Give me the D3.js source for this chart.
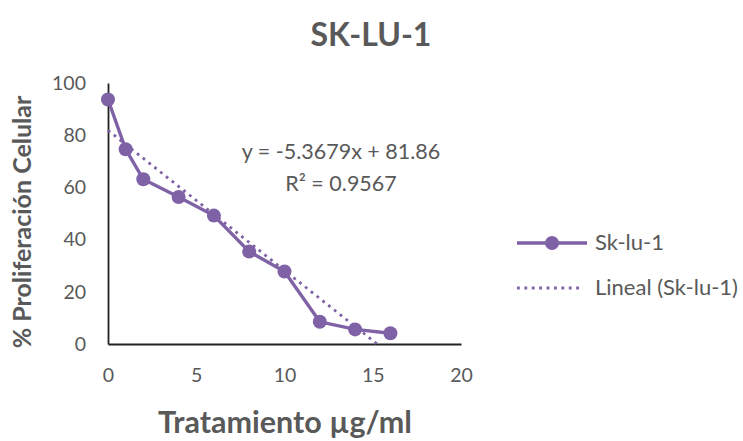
<!DOCTYPE html>
<meta charset="utf-8">
<style>
    body { margin: 0; background: #fff; }
    text { font-family: Lato, "Open Sans", sans-serif; fill: #595959; }
    .title { font-size: 32px; font-weight: bold; }
    .axis-title { font-size: 30.5px; font-weight: bold; }
    .ytitle { font-size: 25px; font-weight: bold; }
    .tick text { font-size: 19.5px; }
    .eq { font-size: 21.5px; }
    .legend text { font-size: 22px; }
</style>
<script src="https://d3js.org/d3.v7.min.js"></script>
<svg width="743" height="441"></svg>
<script>
    // data
    let dose = [0, 1, 2, 4, 6, 8, 10, 12, 14, 16];
    let prolif = [93.7, 74.6, 63.1, 56.3, 49.2, 35.4, 27.8, 8.5, 5.6, 4.1];
    let xTicks = [0, 5, 10, 15, 20];
    let yTicks = [0, 20, 40, 60, 80, 100];
    let slope = -5.3679, intercept = 81.86;
    let eqLines = ["y = -5.3679x + 81.86", "R\u00b2 = 0.9567"];
    let seriesNames = ["Sk-lu-1", "Lineal (Sk-lu-1)"];

    let purple = "#7f62a6";
    let svg = d3.select("svg");

    let x = d3.scaleLinear().domain([0, 20]).range([108, 461]);
    let y = d3.scaleLinear().domain([0, 100]).range([344, 83]);

    svg.append("text").attr("class", "title")
        .attr("x", 371).attr("y", 46).attr("text-anchor", "middle")
        .text("SK-LU-1");

    // axes
    let xAxis = svg.append("g").attr("transform", "translate(0," + y(0) + ")")
        .call(d3.axisBottom(x).tickValues(xTicks).tickSize(0).tickPadding(24));
    let yAxis = svg.append("g").attr("transform", "translate(" + x(0) + ",0)")
        .call(d3.axisLeft(y).tickValues(yTicks).tickSize(0).tickPadding(22));
    xAxis.select(".domain").attr("stroke", "#222").attr("stroke-width", 1.8);
    yAxis.select(".domain").attr("stroke", "#222").attr("stroke-width", 1.8);
    svg.selectAll(".tick text").attr("fill", "#595959");

    svg.append("text").attr("class", "axis-title")
        .attr("x", 285).attr("y", 433).attr("text-anchor", "middle")
        .text("Tratamiento \u00b5g/ml");
    svg.append("text").attr("class", "ytitle")
        .attr("transform", "translate(31," + 222 + ") rotate(-90)")
        .attr("text-anchor", "middle")
        .text("% Proliferación Celular");

    // trendline, clipped where it reaches 0
    let xEnd = Math.min(d3.max(dose), -intercept / slope);
    svg.append("line")
        .attr("x1", x(0)).attr("y1", y(intercept))
        .attr("x2", x(xEnd)).attr("y2", y(slope * xEnd + intercept))
        .attr("stroke", purple).attr("stroke-width", 2.8)
        .attr("stroke-dasharray", "2.8,4.6");

    let pts = dose.map(function(d, i) { return [d, prolif[i]]; });
    let line = d3.line().x(function(d) { return x(d[0]); }).y(function(d) { return y(d[1]); });
    svg.append("path").datum(pts)
        .attr("d", line).attr("fill", "none")
        .attr("stroke", purple).attr("stroke-width", 3.4);
    svg.selectAll(".pt").data(pts).enter().append("circle")
        .attr("cx", function(d) { return x(d[0]); })
        .attr("cy", function(d) { return y(d[1]); })
        .attr("r", 7).attr("fill", purple);

    svg.selectAll(".eq").data(eqLines).enter().append("text")
        .attr("class", "eq").attr("text-anchor", "middle")
        .attr("x", 341).attr("y", function(d, i) { return 159 + i * 32; })
        .text(function(d) { return d; });

    // legend
    let lg = svg.append("g").attr("class", "legend");
    lg.append("line").attr("x1", 517).attr("x2", 587).attr("y1", 243).attr("y2", 243)
        .attr("stroke", purple).attr("stroke-width", 3.4);
    lg.append("circle").attr("cx", 552).attr("cy", 243).attr("r", 7).attr("fill", purple);
    lg.append("line").attr("x1", 517).attr("x2", 582).attr("y1", 288).attr("y2", 288)
        .attr("stroke", purple).attr("stroke-width", 2.8).attr("stroke-dasharray", "2.8,4.6");
    lg.selectAll(".lt").data(seriesNames).enter().append("text")
        .attr("x", 595).attr("y", function(d, i) { return 250 + i * 45; })
        .text(function(d) { return d; });
</script>
